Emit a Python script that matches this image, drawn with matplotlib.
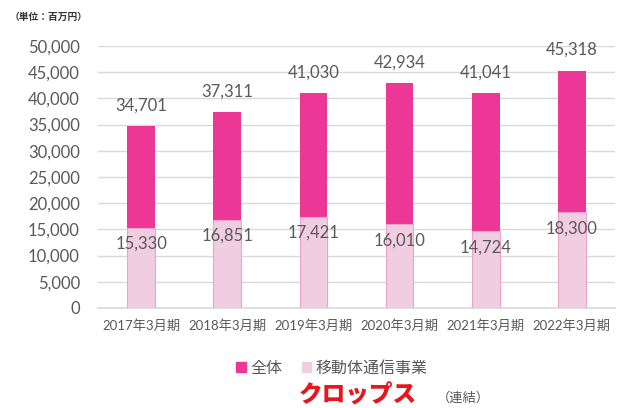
import matplotlib.pyplot as plt
from matplotlib.patches import Patch

plt.rcParams['font.family'] = ['Lato', 'Noto Sans CJK JP', 'DejaVu Sans']

# 決算期ごとの売上高（百万円）
periods = ['2017年3月期', '2018年3月期', '2019年3月期', '2020年3月期', '2021年3月期', '2022年3月期']
total = [34701, 37311, 41030, 42934, 41041, 45318]
mobile = [15330, 16851, 17421, 16010, 14724, 18300]

dark_pink = '#EC3796'
light_pink = '#F0CDE1'
text_gray = '#595959'

fig = plt.figure(figsize=(6.3, 4.08), dpi=100)
ax = fig.add_axes([98 / 630, 100 / 408, 517 / 630, 262 / 408])

x = range(len(periods))
w = 0.32
ax.bar(x, total, width=w, color=dark_pink, zorder=2)
ax.bar(x, mobile, width=w, color=light_pink, edgecolor='#EBA5CB', linewidth=0.8, zorder=3)

for i, (t, m) in enumerate(zip(total, mobile)):
    ax.annotate(f'{t:,}', (i, t), xytext=(0, 9), textcoords='offset points',
                ha='center', va='bottom', fontsize=12, color=text_gray)
    ax.annotate(f'{m:,}', (i, m), xytext=(0, -6), textcoords='offset points',
                ha='center', va='top', fontsize=12, color=text_gray, zorder=4)

ax.set_xlim(-0.5, len(periods) - 0.5)
ax.set_ylim(0, 50000)
ax.set_yticks(range(0, 50001, 5000))
ax.set_yticklabels([f'{v:,}' for v in range(0, 50001, 5000)])
ax.set_xticks(list(x))
ax.set_xticklabels(periods)
ax.tick_params(axis='y', length=0, labelsize=12, labelcolor=text_gray, pad=13)
ax.tick_params(axis='x', length=0, labelsize=9.5, labelcolor=text_gray, pad=8)
ax.grid(axis='y', color='#D9D9D9', linewidth=1, zorder=0)
for s in ['top', 'right', 'left']:
    ax.spines[s].set_visible(False)
ax.spines['bottom'].set_color('#D9D9D9')
ax.spines['bottom'].set_linewidth(1.2)

fig.text(10 / 630, 1 - 17 / 408, '（単位：百万円）', fontsize=7, color='#333333', va='center',
         fontweight='bold', family='Noto Sans CJK JP')

handles = [Patch(color=dark_pink, label='全体'), Patch(color=light_pink, label='移動体通信事業')]
fig.legend(handles=handles, loc='center', bbox_to_anchor=(332 / 630, 1 - 368 / 408), ncol=2,
           frameon=False, prop={'family': 'Noto Sans CJK JP', 'size': 11.5}, labelcolor=text_gray,
           handlelength=0.6, handleheight=0.6, handletextpad=0.3, columnspacing=1.2)

fig.text(358 / 630, 1 - 395 / 408, 'クロップス', fontsize=17, fontweight='heavy', color='#E8141E',
         ha='center', va='center', family='Noto Sans CJK JP')
fig.text(463 / 630, 1 - 398 / 408, '（連結）', fontsize=9.5, color=text_gray, ha='center', va='center',
         family='Noto Sans CJK JP')

fig.savefig('out.png', dpi=100)
